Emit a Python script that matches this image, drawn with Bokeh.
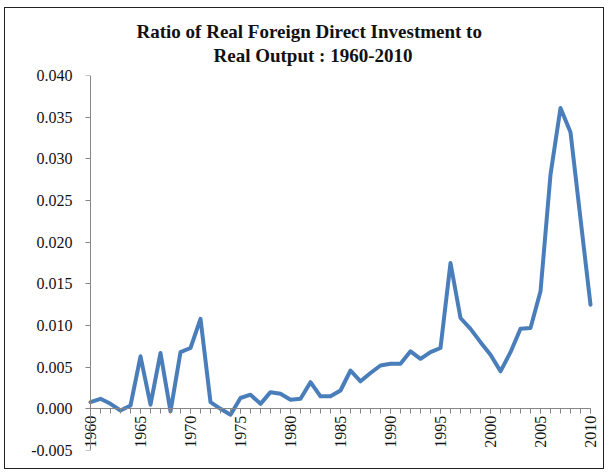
from bokeh.plotting import figure
from bokeh.models import Range1d, SingleIntervalTicker, NumeralTickFormatter, Title, LinearAxis
from bokeh.embed import file_html
from bokeh.resources import INLINE
import math

years = list(range(1960, 2011))
ratio = [
    0.0008, 0.0012, 0.0006, -0.0002, 0.0004, 0.0063, 0.0005, 0.0067, -0.0003, 0.0068,
    0.0073, 0.0108, 0.0008, 0.0000, -0.0007, 0.0013, 0.0017, 0.0006, 0.0020, 0.0018,
    0.0011, 0.0012, 0.0032, 0.0015, 0.0015, 0.0022, 0.0046, 0.0033, 0.0043, 0.0052,
    0.0054, 0.0054, 0.0069, 0.0060, 0.0068, 0.0073, 0.0175, 0.0109, 0.0096, 0.0080,
    0.0065, 0.0045, 0.0068, 0.0096, 0.0097, 0.0141, 0.0281, 0.0361, 0.0332, 0.0228,
    0.0125,
]
title_lines = ["Ratio of Real Foreign Direct Investment to", "Real Output : 1960-2010"]

FONT = "'Liberation Serif'"
AXIS_GRAY = "#868686"
PAD = 0.8  # years of room either side so end labels are not clipped

p = figure(width=600, height=462,
           x_range=Range1d(years[0] - PAD, years[-1] + PAD), y_range=Range1d(-0.005, 0.040),
           output_backend="svg", toolbar_location=None,
           min_border_left=77, min_border_right=7,
           min_border_top=67, min_border_bottom=20)
p.title.visible = False
p.outline_line_color = None
p.xgrid.grid_line_color = None
p.ygrid.grid_line_color = None
p.background_fill_color = "white"
p.border_fill_color = "white"
p.styles = {"border": "1px solid #222222", "margin-left": "4px", "margin-top": "7px"}

p.line(years, ratio, line_color="#4A7EBB", line_width=4, line_join="round", line_cap="round")

# x axis crossing at zero
xa = p.xaxis[0]
xa.fixed_location = 0
xa.bounds = (years[0], years[-1])
xa.ticker = SingleIntervalTicker(interval=5, num_minor_ticks=5)
xa.major_label_orientation = math.pi / 2
xa.major_tick_in = 0
xa.major_tick_out = 5
xa.minor_tick_in = 0
xa.minor_tick_out = 5
xa.axis_line_color = AXIS_GRAY
xa.major_tick_line_color = AXIS_GRAY
xa.minor_tick_line_color = AXIS_GRAY
xa.major_label_standoff = 2
xa.major_label_text_font = FONT
xa.major_label_text_font_size = "16px"
xa.major_label_text_color = "#111111"

# y axis labels (frame edge), line drawn by a second axis at the first year
ya = p.yaxis[0]
ya.ticker = SingleIntervalTicker(interval=0.005, num_minor_ticks=0)
ya.formatter = NumeralTickFormatter(format="0.000")
ya.major_tick_in = 0
ya.major_tick_out = 0
ya.minor_tick_line_color = None
ya.axis_line_color = None
ya.major_tick_line_color = None
ya.major_label_standoff = 10
ya.major_label_text_font = FONT
ya.major_label_text_font_size = "16px"
ya.major_label_text_color = "#111111"

ya2 = LinearAxis(fixed_location=years[0],
                 ticker=SingleIntervalTicker(interval=0.005, num_minor_ticks=0),
                 major_tick_in=0, major_tick_out=5, minor_tick_line_color=None,
                 axis_line_color=AXIS_GRAY, major_tick_line_color=AXIS_GRAY,
                 major_label_text_color=None)
p.add_layout(ya2, "left")

# titles: the one added first sits closest to the plot
for txt, off, so in [(title_lines[1], 131, 19), (title_lines[0], 54, -16)]:
    p.add_layout(Title(text=txt, align="left", offset=off, standoff=so,
                       text_font=FONT, text_font_size="19px", text_font_style="bold",
                       text_color="#111111"), "above")

open("out.html", "w").write(file_html(p, INLINE))
